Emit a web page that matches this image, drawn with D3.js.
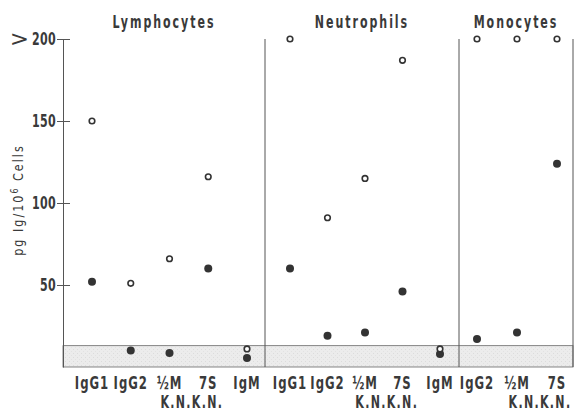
<!DOCTYPE html>
<html>
<head>
<meta charset="utf-8">
<script src="https://cdn.jsdelivr.net/npm/d3@7"></script>
<style>
  body { margin: 0; background: #fff; }
  svg text { font-family: "DejaVu Sans", sans-serif; fill: #3a3a3a; }
</style>
</head>
<body>
<div id="app"></div>
<script>
const PANELS = ['Lymphocytes', 'Neutrophils', 'Monocytes'];

const lymphCats = ['IgG1', 'IgG2', '½M', '7S', 'IgM'];
const lymphOpen = [150, 51, 66, 116, 11];
const lymphFilled = [52, 10, 8.5, 60, 5.5];

const neutroCats = ['IgG1', 'IgG2', '½M', '7S', 'IgM'];
const neutroOpen = [200, 91, 115, 187, 11];
const neutroFilled = [60, 19, 21, 46, 8];

const monoCats = ['IgG2', '½M', '7S'];
const monoOpen = [200, 200, 200];
const monoFilled = [17, 21, 124];

const yTicks = [50, 100, 150, 200];
const yTickLabels = ['50', '100', '150', '200'];
const bandTop = 13;   // shaded background level

const width = 575, height = 411
    , SQUEEZE = 0.65;   // condensed look

const svg = d3.select('#app').append('svg')
    .attr('width', width)
    .attr('height', height);

const y = d3.scaleLinear()
    .domain([0, 200])
    .range([367, 39]);

// panel frames on screen
const panels = [
  { name: PANELS[0], x0: 63, x1: 265, pts: [92, 247], cats: lymphCats, open: lymphOpen, filled: lymphFilled },
  { name: PANELS[1], x0: 265, x1: 459, pts: [290, 440], cats: neutroCats, open: neutroOpen, filled: neutroFilled },
  { name: PANELS[2], x0: 459, x1: 573, pts: [477, 557], cats: monoCats, open: monoOpen, filled: monoFilled }
];

// condensed bold label helper
function label(x, yy, txt, size, spacing, anchor) {
  return svg.append('text')
      .attr('transform', `translate(${x},${yy}) scale(${SQUEEZE},1)`)
      .style('text-anchor', anchor || 'middle')
      .style('font-size', size + 'px')
      .style('font-weight', 'bold')
      .style('letter-spacing', spacing + 'px')
      .text(txt);
}

// stipple for the shaded band
const pat = svg.append('defs').append('pattern')
    .attr('id', 'stip')
    .attr('width', 4).attr('height', 4)
    .attr('patternUnits', 'userSpaceOnUse');
pat.append('rect').attr('width', 4).attr('height', 4).style('fill', '#ececec');
pat.append('rect').attr('x', 1).attr('y', 1).attr('width', 1).attr('height', 1).style('fill', '#dcdcdc');
pat.append('rect').attr('x', 3).attr('y', 3).attr('width', 1).attr('height', 1).style('fill', '#e2e2e2');

svg.append('rect')
    .attr('x', 63)
    .attr('y', y(bandTop))
    .attr('width', 573 - 63)
    .attr('height', y(0) - y(bandTop))
    .style('fill', 'url(#stip)')
    .style('stroke', '#666')
    .style('stroke-width', 0.8);

// y axis
const yAxis = d3.axisLeft(y)
    .tickValues(yTicks)
    .tickSize(0)
    .tickFormat('');

const ya = svg.append('g')
    .attr('transform', 'translate(63,0)')
    .call(yAxis);
ya.select('.domain').attr('stroke', '#555').attr('stroke-width', 1);
ya.selectAll('.tick line')
    .attr('x1', -6).attr('x2', 7)
    .attr('stroke', '#555');

yTicks.forEach((t, i) => {
  label(56, y(t) + 6, yTickLabels[i], 17, 0.5, 'end');
});
svg.append('text')
    .attr('transform', `translate(29,${y(200) + 7}) scale(1.05,0.95)`)
    .style('text-anchor', 'end')
    .style('font-size', '22px')
    .style('font-weight', 'normal')
    .text('>');

svg.append('text')
    .attr('transform', 'translate(23,200) rotate(-90) scale(0.8,1)')
    .style('text-anchor', 'middle')
    .style('font-size', '14px')
    .style('letter-spacing', '2.5px')
    .html('pg Ig/10<tspan dy="-5" font-size="10px">6</tspan><tspan dy="5"> Cells</tspan>');

panels.forEach(p => {
  const x = d3.scalePoint().domain(p.cats).range(p.pts);

  // right divider
  svg.append('line')
      .attr('x1', p.x1).attr('x2', p.x1)
      .attr('y1', y(200)).attr('y2', y(0))
      .style('stroke', '#555')
      .style('stroke-width', 1);

  label((p.x0 + p.x1) / 2, 28, p.name, 17, 3);

  p.cats.forEach(c => label(x(c), 389, c, 18, 1.5));

  label((x('½M') + x('7S')) / 2 + 3, 408, 'K.N.K.N.', 17, 2);

  svg.selectAll(null)
      .data(p.filled)
    .enter().append('circle')
      .attr('cx', (d, i) => x(p.cats[i]))
      .attr('cy', d => y(d))
      .attr('r', 4)
      .style('fill', '#333');

  svg.selectAll(null)
      .data(p.open)
    .enter().append('circle')
      .attr('cx', (d, i) => x(p.cats[i]))
      .attr('cy', d => y(d))
      .attr('r', 2.8)
      .style('fill', '#fff')
      .style('stroke', '#333')
      .style('stroke-width', 1.6);
});
</script>
</body>
</html>
